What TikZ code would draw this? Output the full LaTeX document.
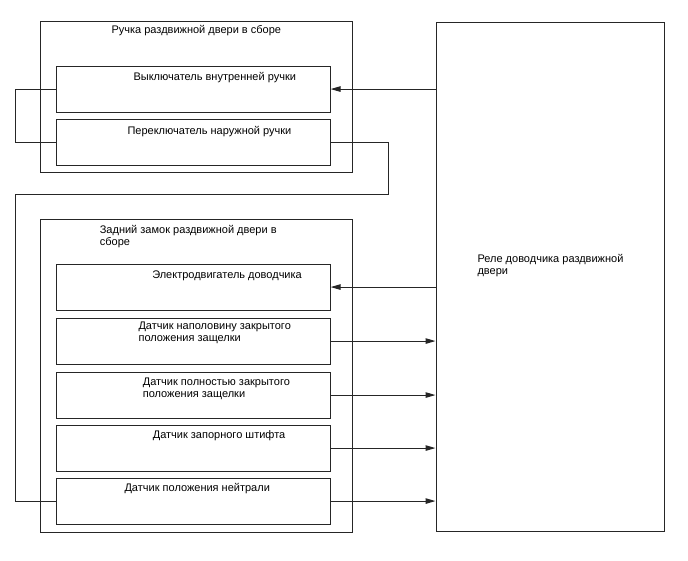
\documentclass[tikz,border=0pt]{standalone}
\usepackage{fontspec}
\setmainfont{Liberation Sans}
\usetikzlibrary{arrows.meta, positioning}

\begin{document}
\begin{tikzpicture}[
    x=1pt, y=-1pt,
    >={Triangle[length=10pt,width=5.5pt]},
    font=\fontsize{11}{12}\selectfont,
    line width=1.1pt,
    group/.style={draw=black!85, anchor=north west, inner sep=0pt},
    unit/.style={draw=black!85, anchor=north west, inner sep=0pt,
                 minimum width=274pt, minimum height=46pt},
    caption/.style={anchor=north west, align=left, inner sep=0pt,
                    execute at begin node=\strut},
    wire/.style={draw=black!85}
  ]
    \useasboundingbox (0,0) rectangle (688,560);

    \node[group, minimum width=312pt, minimum height=151pt] (handle) at (39.5,20.5) {};
    \node[group, minimum width=312pt, minimum height=313pt] (lock)   at (39.5,218.5) {};
    \node[group, minimum width=228pt, minimum height=509pt] (relay)  at (435.5,21.5) {};

    \node[unit] (inner)   at (55.5,65.5)  {};
    \node[unit] (outer)   at (55.5,118.5) {};
    \node[unit] (motor)   at (55.5,263.5) {};
    \node[unit] (half)    at (55.5,317.5) {};
    \node[unit] (full)    at (55.5,371.5) {};
    \node[unit] (pin)     at (55.5,424.5) {};
    \node[unit] (neutral) at (55.5,477.5) {};

    \node[caption] (handlecap)  at (111,24.6)    {Ручка раздвижной двери в сборе};
    \node[caption] (lockcap)    at (99.3,224.3)  {Задний замок раздвижной двери в\\сборе};
    \node[caption] (relaycap)   at (477,253.3)   {Реле доводчика раздвижной\\двери};
    \node[caption] (innercap)   at (133,71.6)    {Выключатель внутренней ручки};
    \node[caption] (outercap)   at (127,125.6)   {Переключатель наружной ручки};
    \node[caption] (motorcap)   at (151.7,269.9) {Электродвигатель доводчика};
    \node[caption] (halfcap)    at (138,321.6)   {Датчик наполовину закрытого\\положения защелки};
    \node[caption] (fullcap)    at (142.3,377.3) {Датчик полностью закрытого\\положения защелки};
    \node[caption] (pincap)     at (152.3,429.9) {Датчик запорного штифта};
    \node[caption] (neutralcap) at (124,482.9)   {Датчик положения нейтрали};

    \coordinate (loopl) at (15.5,0);
    \coordinate (bend)  at (388.5,194.5);

    \draw[wire, ->] (relay.west |- inner.east) -- (inner.east);
    \draw[wire, ->] (relay.west |- motor.east) -- (motor.east);
    \draw[wire, ->] (half.east)    -- (half.east -| relay.west);
    \draw[wire, ->] (full.east)    -- (full.east -| relay.west);
    \draw[wire, ->] (pin.east)     -- (pin.east -| relay.west);
    \draw[wire, ->] (neutral.east) -- (neutral.east -| relay.west);

    \draw[wire] (inner.west) -- (inner.west -| loopl) |- (outer.west);
    \draw[wire] (outer.east) -| (bend) -- (bend -| loopl) |- (neutral.west);
  \end{tikzpicture}
\end{document}
